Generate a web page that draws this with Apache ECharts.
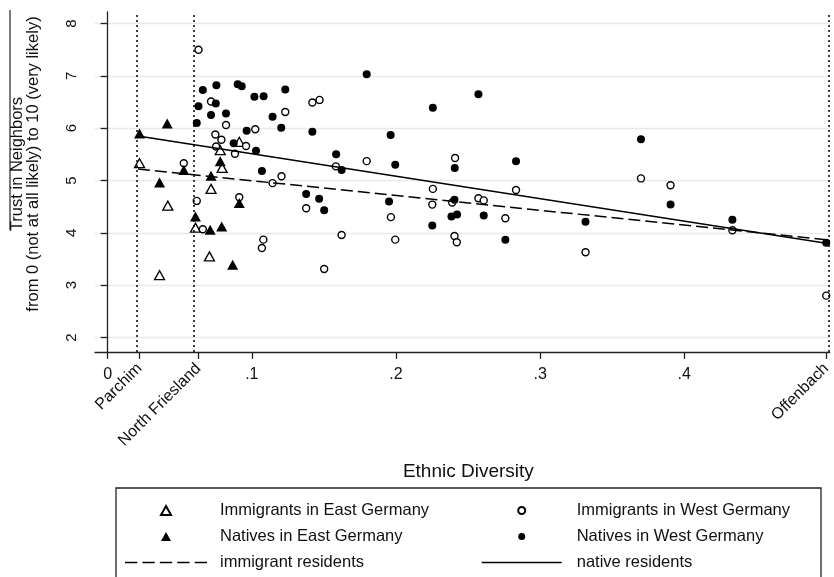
<!DOCTYPE html>
<html><head><meta charset="utf-8">
<script src="https://cdn.jsdelivr.net/npm/echarts@6/dist/echarts.min.js"></script>
<style>html,body{margin:0;padding:0;background:#fff}#c{width:834px;height:577px}</style>
</head><body><div id="c"></div>
<script>
// ---- data ----
const xTickValues = [0, 0.1, 0.2, 0.3, 0.4];
const xTickLabels = ['0', '.1', '.2', '.3', '.4'];
const placeNames = ['Parchim', 'North Friesland', 'Offenbach'];
const placeDiversity = [0.0221, 0.063, 0.4985];
const yTickValues = [2, 3, 4, 5, 6, 7, 8];

const immEast = [[0.0221,5.33],[0.0417,4.52],[0.036,3.19],[0.0717,4.84],[0.0913,5.74],[0.0781,5.58],[0.0794,5.24],[0.0609,4.10],[0.0706,3.55]];
const natEast = [[0.0221,5.90],[0.0413,6.09],[0.036,4.96],[0.0528,5.20],[0.0717,5.09],[0.0781,5.37],[0.0913,4.57],[0.0609,4.31],[0.0711,4.06],[0.0791,4.12],[0.0867,3.39]];
const immWest = [[0.063,7.50],[0.0717,6.51],[0.142,6.49],[0.147,6.54],[0.1232,6.31],[0.0821,6.06],[0.1024,5.98],[0.0747,5.88],[0.0789,5.78],[0.0752,5.65],[0.096,5.66],[0.0883,5.51],[0.0528,5.33],[0.1206,5.08],[0.1144,4.95],[0.0618,4.61],[0.0913,4.68],[0.1377,4.47],[0.1583,5.27],[0.1623,3.96],[0.066,4.07],[0.108,3.87],[0.107,3.71],[0.1502,3.31],[0.1797,5.37],[0.241,5.43],[0.2256,4.84],[0.2833,4.82],[0.1965,4.30],[0.1995,3.87],[0.2252,4.54],[0.239,4.58],[0.2572,4.66],[0.2609,4.62],[0.2759,4.28],[0.2406,3.94],[0.2422,3.82],[0.3315,3.63],[0.37,5.04],[0.3905,4.91],[0.4334,4.05],[0.4985,2.80]];
const natWest = [[0.063,6.42],[0.0618,6.10],[0.066,6.73],[0.0754,6.82],[0.075,6.47],[0.0717,6.25],[0.0821,6.28],[0.0902,6.84],[0.093,6.80],[0.1018,6.60],[0.1082,6.61],[0.1232,6.74],[0.1144,6.22],[0.1204,6.01],[0.0964,5.95],[0.142,5.93],[0.0874,5.71],[0.1029,5.57],[0.1585,5.50],[0.1623,5.20],[0.107,5.18],[0.1377,4.74],[0.1467,4.65],[0.1502,4.43],[0.1797,7.03],[0.2256,6.39],[0.2572,6.65],[0.1963,5.87],[0.37,5.79],[0.1995,5.30],[0.2408,5.24],[0.2833,5.37],[0.1952,4.60],[0.2406,4.63],[0.2385,4.31],[0.2424,4.35],[0.2609,4.33],[0.2252,4.14],[0.2759,3.87],[0.3315,4.21],[0.3905,4.54],[0.4334,4.25],[0.4985,3.81]];
const immigrantFit = [[0.021,5.22],[0.4985,3.87]];
const nativeFit = [[0.021,5.85],[0.4985,3.80]];

const FONT = 'Liberation Sans, Arial, sans-serif';
const chart = echarts.init(document.getElementById('c'), null, {renderer: 'canvas'});
function lookup(vals, labels, v) {
  const i = vals.findIndex(t => Math.abs(t - v) < 1e-6);
  return i >= 0 ? labels[i] : '';
}
const TRI = 'path://M5,0L10,9L0,9Z';
const SOLID = 'path://M0,0H82V1.5H0Z';
const DASH = 'path://M0,0h12v1.5h-12zM17,0h12v1.5h-12zM34,0h12v1.5h-12zM51,0h12v1.5h-12zM68,0h12v1.5h-12z';
const xMin = -0.0088, xMax = 0.5009;
const legendText = {fontSize: 16.5, color: '#111', lineHeight: 16, fontFamily: FONT};
chart.setOption({
  animation: false,
  backgroundColor: '#fff',
  textStyle: {fontFamily: FONT},
  grid: {left: 95, top: 12, width: 737, height: 340, containLabel: false},
  xAxis: [{
    type: 'value', min: xMin, max: xMax, position: 'bottom',
    axisLine: {show: true, lineStyle: {color: '#222', width: 1.3}},
    axisTick: {show: true, length: 7, customValues: xTickValues, lineStyle: {color: '#222', width: 1.3}},
    axisLabel: {customValues: xTickValues, formatter: v => lookup(xTickValues, xTickLabels, v), fontSize: 16, color: '#111', margin: 15, fontFamily: FONT},
    splitLine: {show: false},
    name: 'Ethnic Diversity', nameLocation: 'middle', nameGap: 110,
    nameTextStyle: {fontSize: 19, color: '#111', fontFamily: FONT, padding: [0, 0, 0, 12]}
  }, {
    type: 'value', min: xMin, max: xMax, position: 'bottom',
    axisLine: {show: false},
    axisTick: {show: true, length: 7, customValues: placeDiversity, lineStyle: {color: '#222', width: 1.3}},
    axisLabel: {customValues: placeDiversity, rotate: 45, formatter: v => lookup(placeDiversity, placeNames, v), fontSize: 16, color: '#111', margin: 14, fontFamily: FONT},
    splitLine: {show: false}
  }],
  yAxis: {
    type: 'value', min: 1.723, max: 8.22,
    axisLine: {show: true, lineStyle: {color: '#222', width: 1.3}},
    axisTick: {show: true, length: 7, customValues: yTickValues, lineStyle: {color: '#222', width: 1.3}},
    axisLabel: {customValues: yTickValues, rotate: 90, fontSize: 15, color: '#111', margin: 16, fontFamily: FONT},
    splitLine: {show: true, lineStyle: {color: '#e9e9e9', width: 1.3}},
    name: 'Trust in Neighbors\nfrom 0 (not at all likely) to 10 (very likely)',
    nameLocation: 'middle', nameRotate: 90, nameGap: 54,
    nameTextStyle: {fontSize: 16.5, color: '#111', lineHeight: 16, fontFamily: FONT, padding: [0, 0, 0, 36]}
  },
  legend: [{
    left: 125, top: 502, orient: 'vertical', padding: 0,
    itemWidth: 82, itemHeight: 9, itemGap: 9, symbolKeepAspect: true,
    data: [
      {name: 'Immigrants in East Germany', icon: TRI},
      {name: 'Natives in East Germany', icon: TRI},
      {name: 'immigrant residents', icon: DASH, itemStyle: {color: '#000', borderWidth: 0}}
    ],
    textStyle: Object.assign({}, legendText, {padding: [0, 0, 0, 8]})
  }, {
    left: 481.7, top: 502, orient: 'vertical', padding: 0,
    itemWidth: 80, itemHeight: 7, itemGap: 9, symbolKeepAspect: true,
    data: [
      {name: 'Immigrants in West Germany', icon: 'circle'},
      {name: 'Natives in West Germany', icon: 'circle'},
      {name: 'native residents', icon: SOLID, itemStyle: {color: '#000', borderWidth: 0}}
    ],
    textStyle: Object.assign({}, legendText, {padding: [0, 0, 0, 10]})
  }],
  graphic: [
    {type: 'rect', shape: {x: 116, y: 488, width: 705, height: 110}, style: {fill: 'none', stroke: '#222', lineWidth: 1.3}, silent: true},
    {type: 'line', shape: {x1: 10, y1: 10, x2: 10, y2: 230}, style: {stroke: '#222', lineWidth: 1.2}, silent: true}
  ],
  series: [
    {name: 'Immigrants in East Germany', type: 'scatter', data: immEast, symbol: 'triangle', symbolSize: [10, 9],
      itemStyle: {color: '#fff', borderColor: '#000', borderWidth: 1.3, opacity: 1}, z: 3},
    {name: 'Natives in East Germany', type: 'scatter', data: natEast, symbol: 'triangle', symbolSize: [11, 10],
      itemStyle: {color: '#000', opacity: 1}, z: 4},
    {name: 'Immigrants in West Germany', type: 'scatter', data: immWest, symbol: 'circle', symbolSize: 7,
      itemStyle: {color: '#fff', borderColor: '#000', borderWidth: 1.4, opacity: 1}, z: 3},
    {name: 'Natives in West Germany', type: 'scatter', data: natWest, symbol: 'circle', symbolSize: 8,
      itemStyle: {color: '#000', opacity: 1}, z: 4,
      markLine: {silent: true, symbol: ['none', 'none'], label: {show: false},
        lineStyle: {type: [2, 3], color: '#000', width: 1.5},
        data: placeDiversity.map(v => ({xAxis: v}))}},
    {name: 'immigrant residents', type: 'line', data: immigrantFit, symbol: 'none', z: 5,
      lineStyle: {color: '#000', width: 1.5, type: [12, 5]}, itemStyle: {color: '#000'}},
    {name: 'native residents', type: 'line', data: nativeFit, symbol: 'none', z: 5,
      lineStyle: {color: '#000', width: 1.5}, itemStyle: {color: '#000'}}
  ]
});
</script></body></html>
